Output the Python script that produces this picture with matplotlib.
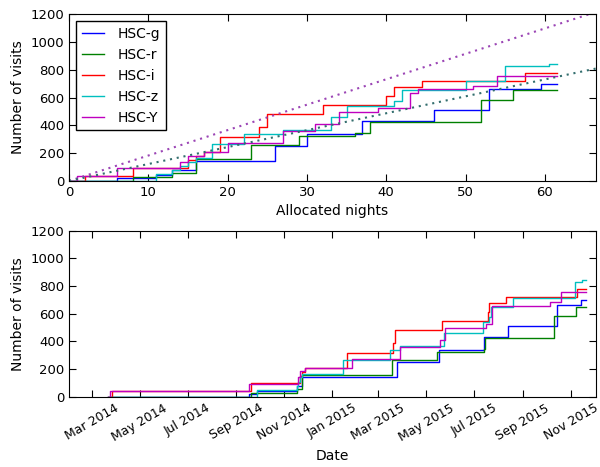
import matplotlib
matplotlib.use('Agg')
import matplotlib.pyplot as plt
import matplotlib.dates as mdates
import numpy as np

# filters and colours
filters = ['HSC-g', 'HSC-r', 'HSC-i', 'HSC-z', 'HSC-Y']
colors = ['b', 'g', 'r', 'c', 'm']

# cumulative visits per filter, steps at allocated night
g_nights = [0, 6, 11, 13, 16, 26, 30, 37, 46, 53, 59.5, 61.5]
g_visits = [0, 22, 43, 79, 145, 254, 336, 432, 514, 664, 700, 700]

r_nights = [0, 8, 13, 16, 23, 29, 36, 38, 52, 56, 61.5]
r_visits = [0, 26, 55, 158, 262, 320, 342, 425, 580, 652, 652]

i_nights = [0, 2, 8, 15, 16, 17, 19, 24, 25, 32, 40, 41, 44.5, 57.5, 61.5]
i_visits = [0, 38, 96, 150, 176, 205, 313, 389, 485, 550, 611, 676, 719, 777, 777]

z_nights = [0, 11, 13, 14, 15, 16, 18, 22, 27, 33, 35, 41, 42, 50, 55, 60.5, 61.5]
z_visits = [0, 50, 79, 108, 139, 164, 265, 336, 366, 463, 540, 574, 652, 717, 828, 845, 845]

y_nights = [0, 1, 6, 14, 15, 17, 20, 27, 31, 34, 39, 43, 44, 51, 54, 61.5]
y_visits = [0, 38, 91, 139, 183, 207, 272, 357, 407, 494, 526, 635, 659, 683, 756, 756]

# calendar date of each allocated night
night_keys = [0, 1, 2, 6, 8, 11, 13, 14, 15, 16, 17, 18, 19, 20, 22, 23, 24,
              25, 26, 27, 29, 30, 31, 32, 33, 34, 35, 36, 37, 38, 39, 40, 41,
              42, 43, 44, 44.5, 46, 50, 51, 52, 53, 54, 55, 56, 57.5, 59.5,
              60.5, 61.5]
night_dates = ['2014-03-22', '2014-03-24', '2014-03-27', '2014-09-17',
               '2014-09-20', '2014-09-27', '2014-11-17', '2014-11-19',
               '2014-11-21', '2014-11-23', '2014-11-27', '2015-01-15',
               '2015-01-20', '2015-01-26', '2015-03-16', '2015-03-18',
               '2015-03-19', '2015-03-22', '2015-03-24', '2015-03-28',
               '2015-05-15', '2015-05-17', '2015-05-19', '2015-05-21',
               '2015-05-23', '2015-05-25', '2015-07-12', '2015-07-13',
               '2015-07-14', '2015-07-15', '2015-07-16', '2015-07-18',
               '2015-07-20', '2015-07-22', '2015-07-23', '2015-07-24',
               '2015-08-11', '2015-08-13', '2015-08-20', '2015-10-06',
               '2015-10-10', '2015-10-14', '2015-10-20', '2015-11-06',
               '2015-11-08', '2015-11-09', '2015-11-14', '2015-11-15',
               '2015-11-21']

# planned visit rates (dotted guides)
plan_nights = [0, 66.5]
plan_high = [0, 1217]
plan_low = [0, 810]


def main():
    plt.rcParams['font.family'] = 'DejaVu Sans'
    plt.rcParams['font.size'] = 10
    plt.rcParams['xtick.labelsize'] = 9.5
    plt.rcParams['ytick.labelsize'] = 9.5

    series = [(g_nights, g_visits), (r_nights, r_visits), (i_nights, i_visits),
              (z_nights, z_visits), (y_nights, y_visits)]
    date_of = dict(zip(night_keys, np.array(night_dates, dtype='datetime64[D]')))

    fig = plt.figure(figsize=(6, 4.67), dpi=100)
    ax1 = fig.add_axes([0.1152, 0.6126, 0.878, 0.3568])
    ax2 = fig.add_axes([0.1152, 0.1505, 0.878, 0.3555])

    for (nights, visits), name, c in zip(series, filters, colors):
        ax1.plot(nights, visits, drawstyle='steps-post', c=c, lw=1, label=name)
        dates = [date_of[n] for n in nights]
        ax2.plot(dates, visits, drawstyle='steps-post', c=c, lw=1)

    ax1.plot(plan_nights, plan_high, c='#9b45b5', lw=1.5, ls=(0, (1, 2.3)))
    ax1.plot(plan_nights, plan_low, c='#336e6e', lw=1.5, ls=(0, (1, 2.3)))

    ax1.set_xlim(0, 66.45)
    ax1.set_ylim(0, 1200)
    ax1.set_yticks(range(0, 1201, 200))
    ax1.set_xticks(range(0, 61, 10))
    ax1.set_xlabel('Allocated nights')
    ax1.set_ylabel('Number of visits')
    ax1.legend(loc='upper left', handlelength=1.6, handletextpad=1.0,
               fancybox=False, edgecolor='black', framealpha=1,
               borderaxespad=0.5, fontsize=10)

    ax2.set_xlim(np.datetime64('2014-01-31'), np.datetime64('2015-12-03'))
    ax2.set_ylim(0, 1200)
    ax2.set_yticks(range(0, 1201, 200))
    ax2.xaxis.set_major_locator(mdates.MonthLocator(bymonth=[1, 3, 5, 7, 9, 11]))
    ax2.xaxis.set_major_formatter(mdates.DateFormatter('%b %Y'))
    plt.setp(ax2.get_xticklabels(), rotation=30, ha='center', fontsize=9)
    ax2.set_xlabel('Date')
    ax2.set_ylabel('Number of visits')

    for ax in (ax1, ax2):
        ax.tick_params(direction='in', top=True, right=True, length=5)

    fig.savefig('out.png', dpi=100)


if __name__ == "__main__":
    main()
